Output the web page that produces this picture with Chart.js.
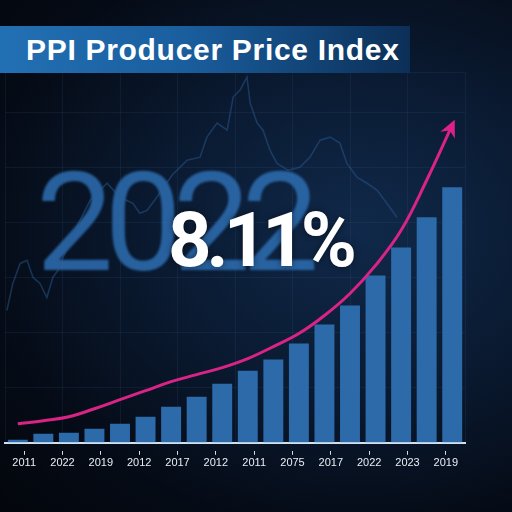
<!DOCTYPE html>
<html>
<head>
<meta charset="utf-8">
<script src="https://cdn.jsdelivr.net/npm/chart.js@4.4.1/dist/chart.umd.min.js"></script>
<style>
  html, body { margin: 0; padding: 0; }
  body {
    width: 512px; height: 512px; overflow: hidden;
    background: radial-gradient(ellipse at 70% 45%, #10294a 0%, #0a1a31 40%, #050b16 75%, #03060c 100%);
  }
  #wrap { position: relative; width: 512px; height: 512px; }
  #title {
    position: absolute; left: 0; top: 26px; width: 410px; height: 47px;
    background: linear-gradient(90deg, #2270b4 0%, #1a5e9e 45%, #0c2f57 100%);
    color: #fff; font: bold 30px "Liberation Sans", Arial, sans-serif; letter-spacing: 0.7px;
    line-height: 47px; padding-left: 26px; box-sizing: border-box; z-index: 3;
  }
  #year {
    position: absolute; left: 36px; top: 142px; z-index: 0;
    color: #2d6eb2; font: 400 138px Roboto, sans-serif; letter-spacing: -9px;
    opacity: 0.85; filter: blur(1.2px);
  }
  #pct {
    position: absolute; left: 168px; top: 195px; z-index: 2;
    color: #fff; font: bold 76px Roboto, sans-serif; letter-spacing: -5px;
    text-shadow: 0 0 6px rgba(0,0,0,0.5);
  }
  canvas { position: absolute; left: 0; top: 0; z-index: 1; }
</style>
</head>
<body>
<div id="wrap">
  <div id="title">PPI Producer Price Index</div>
  <div id="year">2022</div>
  <canvas id="myChart" width="512" height="512"></canvas>
  <div id="pct">8.11%</div>
</div>
<script>
// bar values (18 bars)
const barValues = [3, 9, 10, 14, 19, 26, 36, 46, 59, 72, 83, 99, 118, 137, 167, 195, 225, 255];
// pink trend curve, one point per bar
const trendValues = [19, 22, 26, 34, 43, 52, 61, 68, 75, 84, 96, 109, 127, 149, 177, 212, 262, 317];
// axis year labels (12, spread under the bars)
const yearLabels = ['2011', '2022', '2019', '2012', '2017', '2012', '2011', '2075', '2017', '2022', '2023', '2019'];
// faint background line
const bgX = [0.4, 1.7, 3.3, 4.8, 6.1, 7.6, 9.1, 10.4, 11.5, 14.1, 18.5, 22.2, 25.0, 27.8, 29.3, 30.9, 33.0, 36.3, 39.6, 42.4,
  43.9, 46.1, 48.3, 49.6, 51.1, 52.6, 53.3, 54.8, 56.1, 57.6, 59.1, 61.5, 64.1, 66.3, 68.5, 70.7, 72.8, 74.3, 76.5, 78.7, 80.9, 83.0, 85.2];
const bgY = [132, 159, 179, 182, 165, 159, 145, 165, 172, 202, 242, 259, 245, 239, 229, 232, 245, 267, 282, 285,
  305, 319, 312, 345, 352, 365, 339, 319, 312, 292, 279, 272, 275, 285, 302, 305, 299, 279, 265, 259, 252, 239, 225];

const ctx = document.getElementById('myChart');

// arrow head at the end of the trend line
const arrowHead = {
  id: 'arrowHead',
  afterDatasetsDraw(chart) {
    const meta = chart.getDatasetMeta(1);
    const pts = meta.data;
    const p = pts[pts.length - 1];
    const q = pts[pts.length - 2];
    let dx = p.x - (p.cp1x ?? q.x);
    let dy = p.y - (p.cp1y ?? q.y);
    const len = Math.hypot(dx, dy) || 1;
    dx /= len; dy /= len;
    const c = chart.ctx;
    const L = 17, W = 8;
    const tipX = p.x + dx * 6, tipY = p.y + dy * 6;
    c.save();
    c.fillStyle = '#e0208a';
    c.beginPath();
    c.moveTo(tipX, tipY);
    c.lineTo(tipX - dx * L - dy * W, tipY - dy * L + dx * W);
    c.lineTo(tipX - dx * L * 0.7, tipY - dy * L * 0.7);
    c.lineTo(tipX - dx * L + dy * W, tipY - dy * L - dx * W);
    c.closePath();
    c.fill();
    c.restore();
  }
};

new Chart(ctx, {
  data: {
    labels: barValues.map((v, i) => i),
    datasets: [
      {
        type: 'bar',
        data: barValues,
        backgroundColor: '#2c6aaa',
        barPercentage: 0.78,
        categoryPercentage: 1,
        grouped: false,
        order: 3
      },
      {
        type: 'line',
        data: trendValues,
        borderColor: '#d92486',
        borderWidth: 3,
        pointRadius: 0,
        tension: 0.4,
        order: 1
      },
      {
        type: 'line',
        xAxisID: 'xs',
        data: bgX.map((x, i) => ({ x: x, y: bgY[i] })),
        borderColor: 'rgba(45, 95, 150, 0.45)',
        borderWidth: 1.6,
        pointRadius: 0,
        tension: 0,
        order: 5
      }
    ]
  },
  plugins: [arrowHead],
  options: {
    responsive: false,
    animation: false,
    layout: { padding: { left: 5, right: 47, top: 72, bottom: 40 } },
    plugins: { legend: { display: false }, tooltip: { enabled: false } },
    scales: {
      x: {
        type: 'category',
        position: 'bottom',
        ticks: { display: false },
        grid: { display: false },
        border: { display: true, color: '#cfe0f0', width: 2 }
      },
      x2: {
        type: 'category',
        position: 'bottom',
        labels: yearLabels,
        offset: true,
        ticks: { color: '#e8eef5', font: { family: 'Liberation Sans', size: 11 }, padding: 2 },
        grid: { drawOnChartArea: false, tickLength: 4, color: '#cfe0f0' },
        border: { display: false }
      },
      xs: {
        type: 'linear',
        position: 'top',
        min: 0,
        max: 100,
        ticks: { display: false, stepSize: 12.5 },
        grid: { color: 'rgba(70, 110, 160, 0.13)', drawTicks: false },
        border: { display: false }
      },
      y: {
        min: 0,
        max: 370,
        ticks: { display: false, stepSize: 55 },
        grid: { color: 'rgba(70, 110, 160, 0.13)', drawTicks: false },
        border: { display: false }
      }
    }
  }
});
</script>
</body>
</html>
